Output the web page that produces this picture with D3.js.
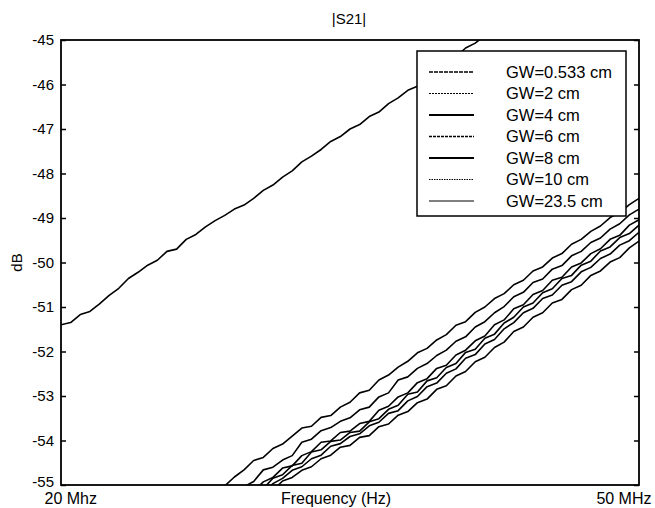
<!DOCTYPE html>
<html>
<head>
<meta charset="utf-8">
<script src="https://cdn.jsdelivr.net/npm/d3@7"></script>
<style>
  body { margin: 0; background: #fff; }
  svg text { font-family: "Liberation Sans", Arial, Helvetica, sans-serif; fill: #000; }
</style>
</head>
<body>
<div id="chart"></div>
<script>
//data (MHz / dB)
const freqs = [20,20.5,21,21.5,22,22.5,23,23.5,24,24.5,25,25.5,26,26.5,27,27.5,28,28.5,29,29.5,
  30,30.5,31,31.5,32,32.5,33,33.5,34,34.5,35,35.5,36,36.5,37,37.5,38,38.5,39,39.5,
  40,40.5,41,41.5,42,42.5,43,43.5,44,44.5,45,45.5,46,46.5,47,47.5,48,48.5,49,49.5,50];

const names = ["GW=0.533 cm", "GW=2 cm", "GW=4 cm", "GW=6 cm", "GW=8 cm", "GW=10 cm", "GW=23.5 cm"];

const gw0533 = [-51.40,-51.35,-51.17,-51.10,-50.93,-50.74,-50.58,-50.36,-50.22,-50.06,
  -49.95,-49.75,-49.70,-49.48,-49.37,-49.20,-49.06,-48.94,-48.80,-48.71,
  -48.56,-48.38,-48.26,-48.08,-47.94,-47.74,-47.61,-47.46,-47.28,-47.17,
  -47.00,-46.90,-46.72,-46.62,-46.43,-46.30,-46.13,-46.04,-45.83,-45.70,
  -45.50,-45.38,-45.18,-45.07,-44.90,null,null,null,null,null,
  null,null,null,null,null,null,null,null,null,null,null];

const gw2 = [null,null,null,null,null,null,null,null,null,null,
  null,null,null,null,null,null,-55.20,-55.02,-54.82,-54.66,
  -54.45,-54.38,-54.18,-54.08,-53.90,-53.72,-53.68,-53.48,-53.44,-53.25,
  -53.14,-52.93,-52.87,-52.64,-52.53,-52.35,-52.22,-52.03,-51.93,-51.74,
  -51.62,-51.41,-51.33,-51.12,-51.00,-50.81,-50.70,-50.50,-50.40,-50.19,
  -50.10,-49.90,-49.80,-49.59,-49.48,-49.30,-49.18,-48.99,-48.88,-48.70,-48.56];

const gw4 = [null,null,null,null,null,null,null,null,null,null,
  null,null,null,null,null,null,null,null,-55.22,-55.04,
  -54.92,-54.66,-54.60,-54.44,-54.34,-54.04,-53.97,-53.78,-53.71,-53.57,
  -53.49,-53.31,-53.25,-53.02,-52.93,-52.64,-52.57,-52.38,-52.27,-52.09,
  -51.97,-51.77,-51.67,-51.45,-51.33,-51.13,-50.99,-50.77,-50.67,-50.45,
  -50.37,-50.15,-50.07,-49.85,-49.75,-49.55,-49.45,-49.25,-49.13,-48.93,-48.80];

const gw6 = [null,null,null,null,null,null,null,null,null,null,
  null,null,null,null,null,null,null,null,null,null,
  -55.14,-54.93,-54.83,-54.62,-54.57,-54.34,-54.25,-54.04,-54.01,-53.82,
  -53.79,-53.62,-53.57,-53.32,-53.23,-53.02,-52.93,-52.70,-52.61,-52.38,
  -52.31,-52.08,-51.97,-51.76,-51.65,-51.40,-51.29,-51.04,-50.95,-50.72,
  -50.63,-50.40,-50.33,-50.10,-50.01,-49.80,-49.69,-49.48,-49.39,-49.16,-49.04];

const gw8 = [null,null,null,null,null,null,null,null,null,null,
  null,null,null,null,null,null,null,null,null,null,
  null,-55.08,-54.85,-54.77,-54.56,-54.51,-54.26,-54.21,-54.02,-53.99,
  -53.82,-53.79,-53.58,-53.51,-53.30,-53.21,-52.96,-52.91,-52.66,-52.59,
  -52.36,-52.27,-52.02,-51.95,-51.70,-51.61,-51.36,-51.23,-51.00,-50.91,
  -50.68,-50.59,-50.36,-50.29,-50.06,-49.97,-49.74,-49.65,-49.44,-49.35,-49.16];

const gw10 = [null,null,null,null,null,null,null,null,null,null,
  null,null,null,null,null,null,null,null,null,null,
  null,-55.20,-54.97,-54.85,-54.67,-54.59,-54.41,-54.33,-54.13,-54.07,
  -53.91,-53.85,-53.67,-53.59,-53.39,-53.33,-53.11,-53.01,-52.79,-52.71,
  -52.49,-52.39,-52.15,-52.07,-51.83,-51.73,-51.49,-51.35,-51.13,-51.03,
  -50.81,-50.73,-50.51,-50.43,-50.21,-50.11,-49.91,-49.81,-49.61,-49.51,-49.32];

const gw235 = [null,null,null,null,null,null,null,null,null,null,
  null,null,null,null,null,null,null,null,null,null,
  null,null,-55.12,-54.91,-54.83,-54.67,-54.59,-54.41,-54.33,-54.15,
  -54.11,-53.93,-53.89,-53.69,-53.63,-53.43,-53.35,-53.15,-53.07,-52.85,
  -52.77,-52.55,-52.45,-52.23,-52.13,-51.91,-51.79,-51.55,-51.45,-51.23,
  -51.13,-50.91,-50.83,-50.61,-50.51,-50.29,-50.19,-49.99,-49.89,-49.67,-49.52];

const series = [gw0533, gw2, gw4, gw6, gw8, gw10, gw235];

const yTicks = [-45,-46,-47,-48,-49,-50,-51,-52,-53,-54,-55];
const xTickVals = [20, 50];
const xTickLabels = ["20 Mhz", "50 MHz"];

//legend line styles
const dashes = ["4,1", "2,1", null, "3,1", null, "1.5,1", null];
const legendColors = ["#000", "#000", "#000", "#000", "#000", "#000", "#555"];
const legendWidths = [1.3, 1.1, 2, 1.3, 2, 1.1, 1.5];

//dimensions
const width = 655, height = 508;
const margin = {top: 40, right: 16, bottom: 23, left: 61};

const svg = d3.select("#chart")
  .append("svg")
    .attr("width", width)
    .attr("height", height);

const x = d3.scaleLinear()
  .domain([20, 50])
  .range([margin.left, width - margin.right]);

const y = d3.scaleLinear()
  .domain([-55, -45])
  .range([height - margin.bottom, margin.top]);

//clip to plot area
svg.append("clipPath")
    .attr("id", "plotclip")
  .append("rect")
    .attr("x", margin.left)
    .attr("y", margin.top)
    .attr("width", x(50) - x(20))
    .attr("height", y(-55) - y(-45));

const line = d3.line()
  .defined(function(d){ return d[1] !== null })
  .x(function(d){ return x(d[0]) })
  .y(function(d){ return y(d[1]) });

svg.append("g")
    .attr("clip-path", "url(#plotclip)")
  .selectAll("path")
  .data(series)
  .join("path")
    .attr("d", function(s){ return line(s.map(function(v, i){ return [freqs[i], v] })) })
    .attr("fill", "none")
    .attr("stroke", "#000")
    .attr("stroke-width", 1.6)
    .attr("stroke-linejoin", "round");

//axes (plain hyphen for the minus sign, like the original)
const yAxis = svg.append("g")
  .attr("transform", `translate(${margin.left},0)`)
  .call(d3.axisLeft(y).tickValues(yTicks).tickSize(-5).tickPadding(7)
    .tickFormat(function(d){ return String(d) }));
yAxis.select(".domain").remove();
yAxis.selectAll("text")
  .style("font-size", "15px")
  .attr("y", function(d){ return d === -55 ? -3 : 0 });
yAxis.selectAll("line").attr("stroke-width", 1.5);

const yAxisR = svg.append("g")
  .attr("transform", `translate(${x(50)},0)`)
  .call(d3.axisRight(y).tickValues(yTicks).tickSize(-5).tickFormat(""));
yAxisR.select(".domain").remove();
yAxisR.selectAll("line").attr("stroke-width", 1.5);

const xAxis = svg.append("g")
  .attr("transform", `translate(0,${y(-55)})`)
  .call(d3.axisBottom(x).tickValues(xTickVals).tickSize(0).tickPadding(8)
    .tickFormat(function(d, i){ return xTickLabels[i] }));
xAxis.select(".domain").remove();
xAxis.selectAll("text")
  .style("font-size", "16px")
  .attr("text-anchor", function(d, i){ return i === 0 ? "start" : "end" })
  .attr("dx", function(d, i){ return i === 0 ? -17 : 12 });

//box
svg.append("rect")
  .attr("x", margin.left)
  .attr("y", margin.top)
  .attr("width", x(50) - x(20))
  .attr("height", y(-55) - y(-45))
  .attr("fill", "none")
  .attr("stroke", "#000")
  .attr("stroke-width", 1.8);

//labels
svg.append("text")
  .attr("x", 349)
  .attr("y", 24)
  .attr("text-anchor", "middle")
  .style("font-size", "15px")
  .text("|S21|");

svg.append("text")
  .attr("x", 336)
  .attr("y", 504)
  .attr("text-anchor", "middle")
  .style("font-size", "16px")
  .text("Frequency (Hz)");

svg.append("text")
  .attr("transform", `translate(22,${y(-50)}) rotate(-90)`)
  .attr("text-anchor", "middle")
  .style("font-size", "15px")
  .text("dB");

//legend
const leg = svg.append("g").attr("transform", "translate(417,51)");
leg.append("rect")
  .attr("width", 209)
  .attr("height", 165)
  .attr("fill", "#fff")
  .attr("stroke", "#000")
  .attr("stroke-width", 1.5);

const rows = leg.selectAll("g.row")
  .data(names)
  .join("g")
    .attr("class", "row")
    .attr("transform", function(d, i){ return `translate(0,${21 + i * 21.5})` });

rows.append("line")
  .attr("x1", 12)
  .attr("x2", 57)
  .attr("stroke", function(d, i){ return legendColors[i] })
  .attr("stroke-width", function(d, i){ return legendWidths[i] })
  .attr("stroke-dasharray", function(d, i){ return dashes[i] });

rows.append("text")
  .attr("x", 89)
  .attr("dy", "0.35em")
  .style("font-size", "16.5px")
  .text(function(d){ return d });
</script>
</body>
</html>
